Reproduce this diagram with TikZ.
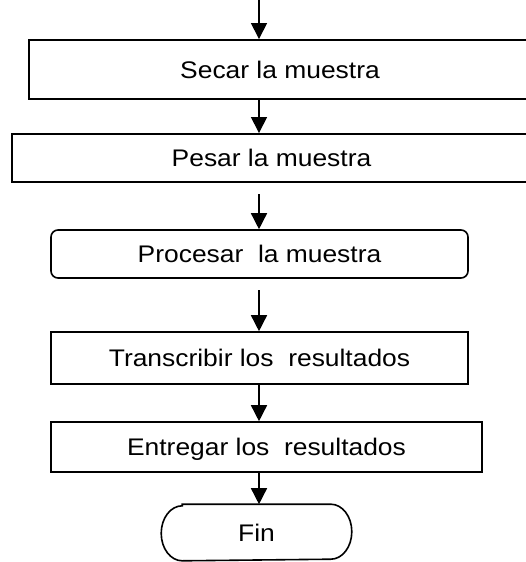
\documentclass[tikz,border=0pt]{standalone}
\usepackage{fontspec}
\setmainfont{Liberation Sans}
\newfontfamily\boxfont[FakeStretch=1.1]{Liberation Sans}
\usetikzlibrary{arrows.meta}
\begin{document}
\begin{tikzpicture}[x=1pt,y=-1pt,
  box/.style={draw=black, line width=1.6pt, inner sep=0pt,
    font=\boxfont\fontsize{24}{28}\selectfont, text height=17pt, text depth=0pt},
  arr/.style={line width=1.5pt, -{Triangle[length=16pt,width=16pt]}}]
\fill[white] (0,0) rectangle (525,562);
\useasboundingbox (0,0) rectangle (525,562);

\coordinate (top) at (259,0);
\coordinate (s3) at (259,194);
\coordinate (s4) at (259,290);

\node[box, line width=1.9pt, minimum width=502pt, minimum height=59pt] (b1) at (280,69.5) {Secar la muestra};
\node[box, line width=1.9pt, minimum width=519pt, minimum height=48pt] (b2) at (271.5,158) {Pesar la muestra};
\node[box, rounded corners=7pt, minimum width=417pt, minimum height=48pt] (b3) at (259.5,254) {Procesar\ \ la muestra};
\node[box, minimum width=417pt, minimum height=52pt] (b4) at (259.5,358) {Transcribir los\ \ resultados};
\node[box, minimum width=431pt, minimum height=50pt] (b5) at (266.5,447) {Entregar los\ \ resultados};
\node[box, draw=none, minimum width=189pt, minimum height=55pt] (fin) at (256.5,532.5) {Fin};
\draw[line width=1.6pt] ([xshift=21pt]fin.north west) -- ([xshift=-21pt]fin.north east)
  arc[start angle=90, end angle=-90, x radius=21pt, y radius=27.5pt]
  -- ([xshift=21pt]fin.south west)
  arc[start angle=270, end angle=90, x radius=21pt, y radius=27.5pt] -- cycle;

\draw[arr] (top) -- (top |- b1.north);
\draw[arr] (top |- b1.south) -- (top |- b2.north);
\draw[arr] (s3) -- (s3 |- b3.north);
\draw[arr] (s4) -- (s4 |- b4.north);
\draw[arr] (top |- b4.south) -- (top |- b5.north);
\draw[arr] (top |- b5.south) -- (top |- fin.north);
\end{tikzpicture}
\end{document}
